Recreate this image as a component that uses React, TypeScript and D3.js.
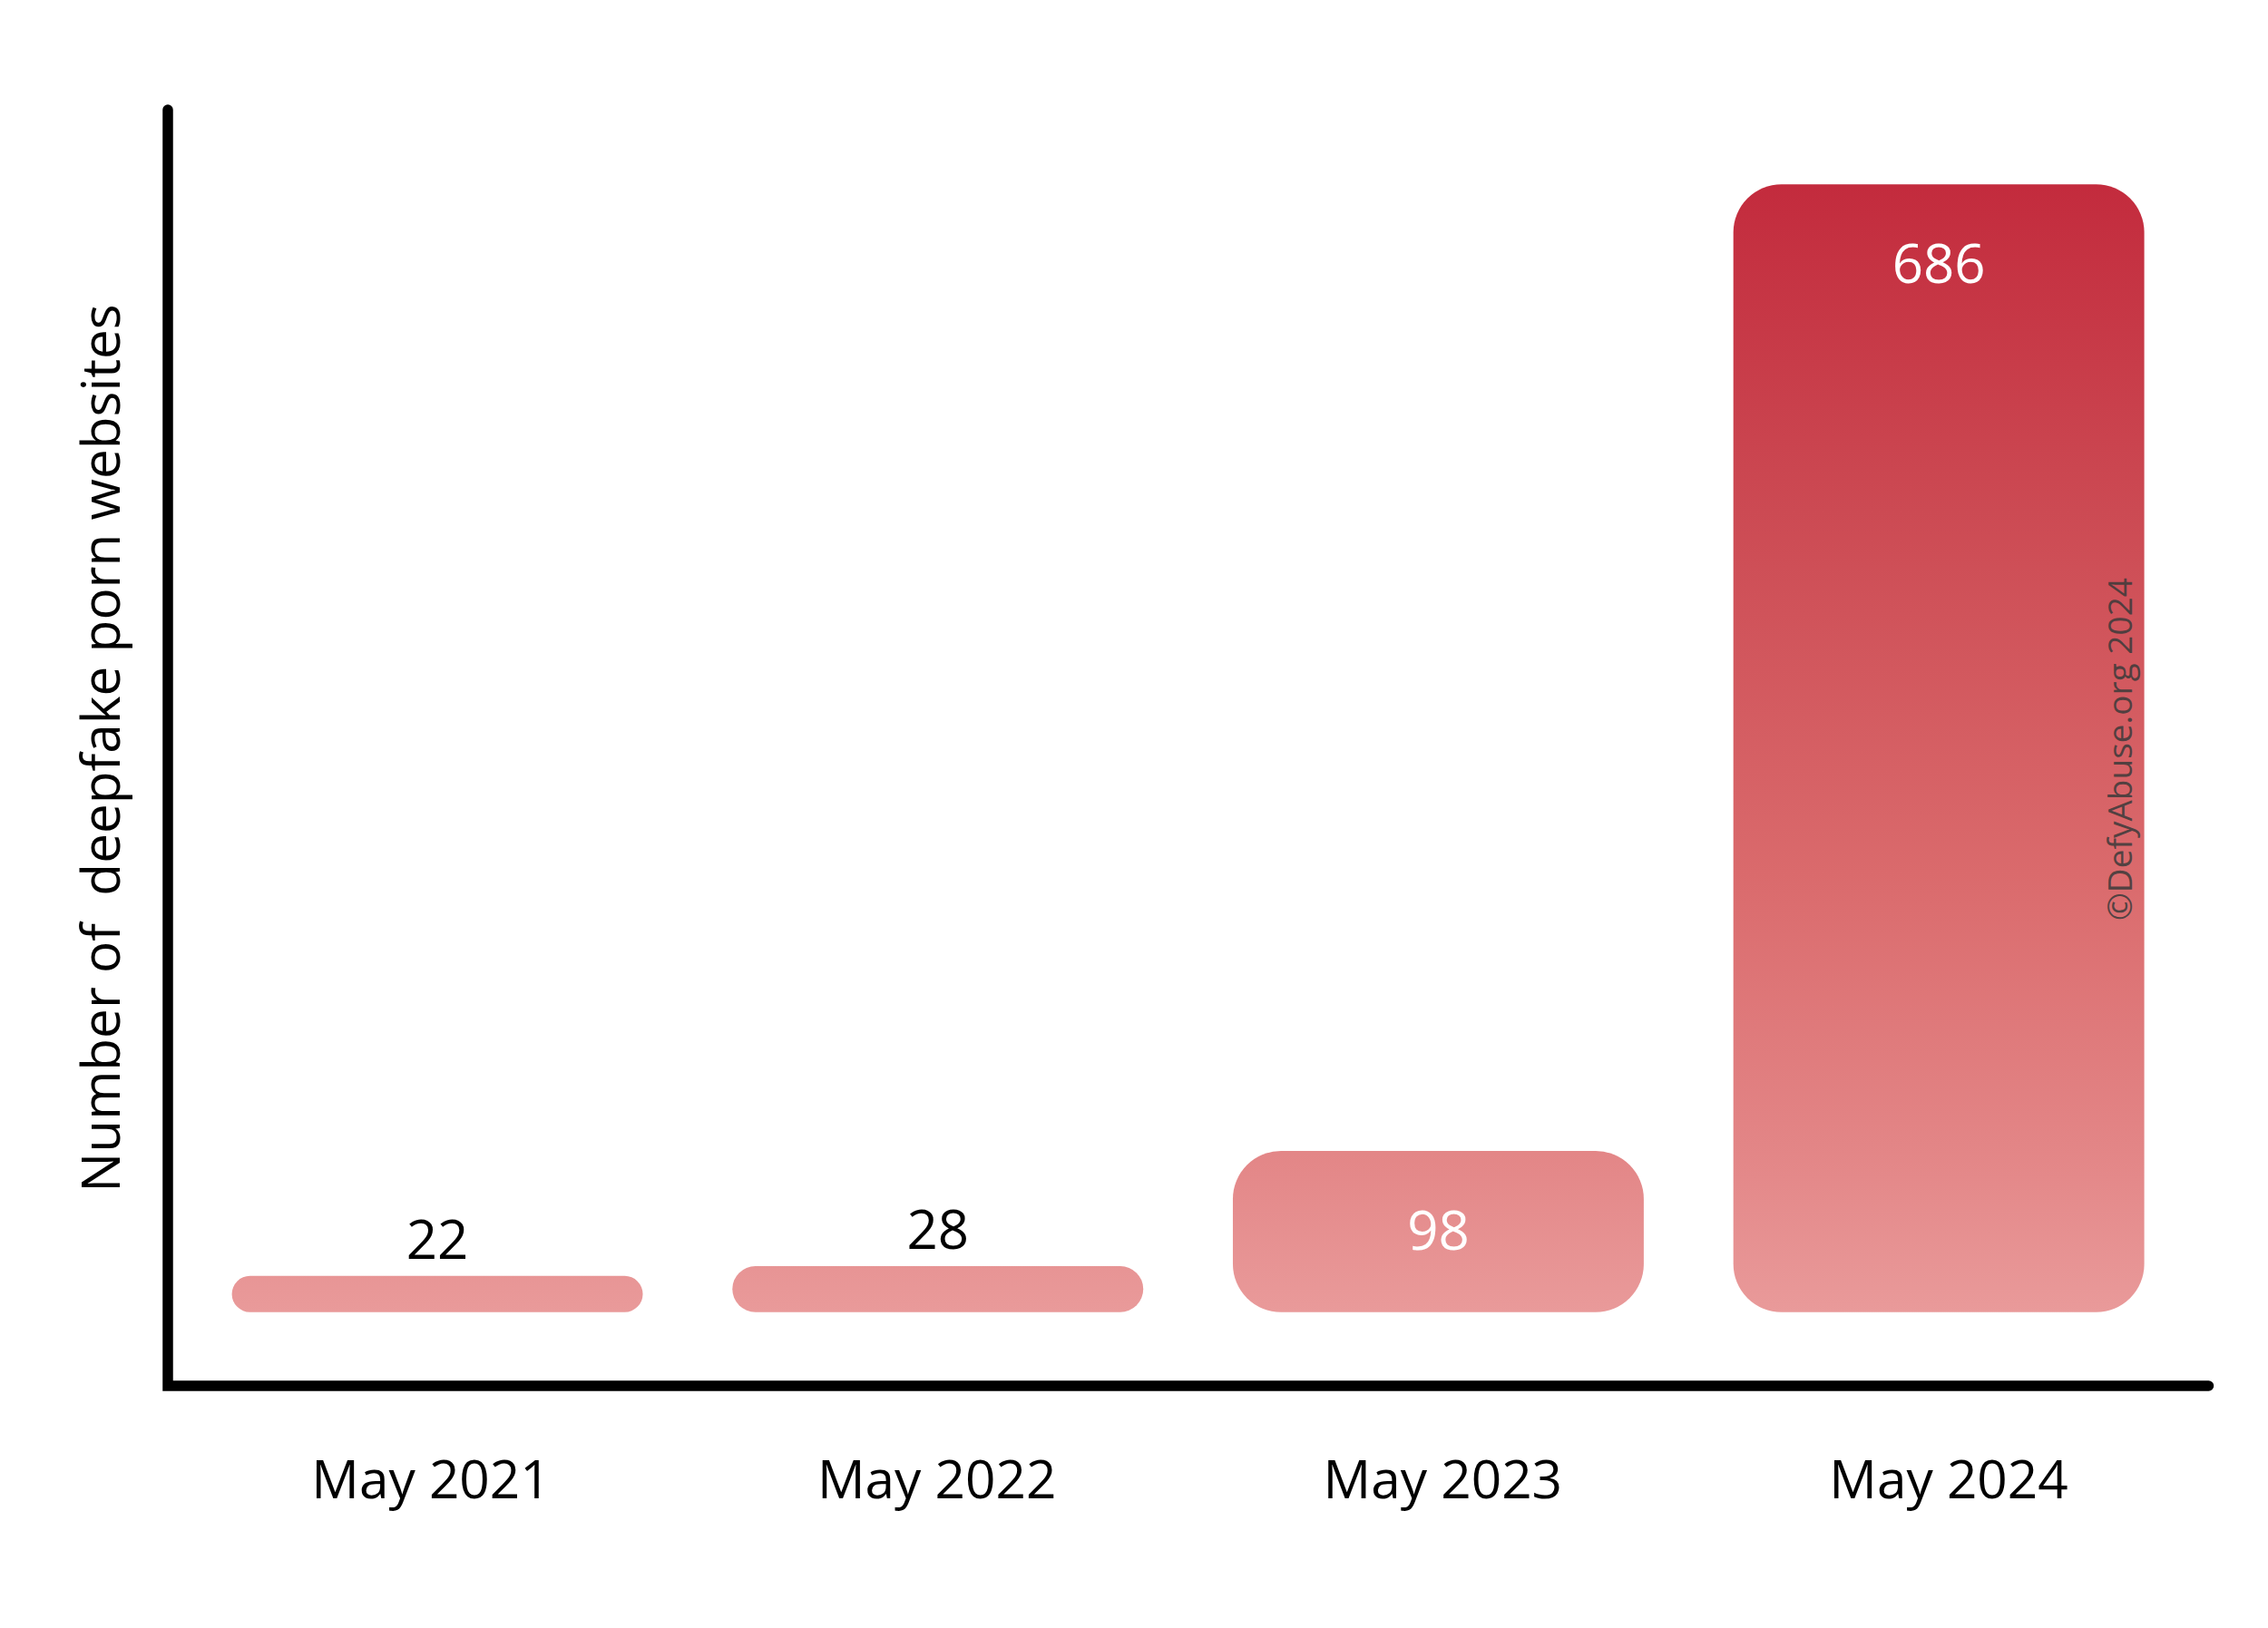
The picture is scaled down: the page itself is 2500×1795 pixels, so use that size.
import React from "react";
import * as d3 from "d3";

const categories = ["May 2021", "May 2022", "May 2023", "May 2024"];
const values = [22, 28, 98, 686];
const yTitle = "Number of  deepfake porn websites";
const watermark = "©DefyAbuse.org 2024";

const W = 2500;
const H = 1795;
const FONT = "'Open Sans', 'Noto Sans', sans-serif";

export default function App() {
  const x = d3
    .scaleBand<string>()
    .domain(categories)
    .range([255.6, 2363.6])
    .paddingInner(0.179)
    .paddingOuter(0);
  const xLabel = d3.scalePoint<string>().domain(categories).range([475, 2148]);
  const y = d3.scaleLinear().domain([0, 686]).range([1446.7, 203.3]);

  const axisPath = d3.path();
  axisPath.moveTo(185, 121);
  axisPath.lineTo(185, 1528);
  axisPath.lineTo(2434.5, 1528);

  const bw = x.bandwidth();

  return (
    <svg
      width={W}
      height={H}
      viewBox={`0 0 ${W} ${H}`}
      style={{ position: "absolute", left: 0, top: 0, background: "#fff" }}
    >
      <defs>
        <linearGradient
          id="barGrad"
          gradientUnits="userSpaceOnUse"
          x1="0"
          x2="0"
          y1={y(686)}
          y2={y(0)}
        >
          <stop offset="0" stopColor="#c32b3d" />
          <stop offset="0.29" stopColor="#cc4a53" />
          <stop offset="0.61" stopColor="#da6a6c" />
          <stop offset="0.86" stopColor="#e38687" />
          <stop offset="1" stopColor="#e99a9a" />
        </linearGradient>
      </defs>
      <rect x={0} y={0} width={W} height={H} fill="#fff" />

      {categories.map((c, i) => {
        const v = values[i];
        const top = y(v);
        const h = y(0) - top;
        const r = Math.min(53, h / 2);
        const x0 = x(c) as number;
        const inside = h > 100;
        return (
          <g key={c}>
            <rect
              x={x0}
              y={top}
              width={bw}
              height={h}
              rx={r}
              ry={r}
              fill="url(#barGrad)"
            />
            <text
              x={x0 + bw / 2}
              y={inside ? top + 109 : top - 19}
              textAnchor="middle"
              fontFamily={FONT}
              fontSize={60}
              fill={inside ? "#ffffff" : "#000000"}
            >
              {v}
            </text>
            <text
              x={xLabel(c) as number}
              y={1651.7}
              textAnchor="middle"
              fontFamily={FONT}
              fontSize={58.5}
              fill="#000"
            >
              {c}
            </text>
          </g>
        );
      })}

      <path
        d={axisPath.toString()}
        fill="none"
        stroke="#000"
        strokeWidth={11.5}
        strokeLinecap="round"
        strokeLinejoin="miter"
      />

      <text
        transform={`translate(132, 825) rotate(-90)`}
        textAnchor="middle"
        fontFamily={FONT}
        fontSize={58.5}
        fill="#000"
        style={{ whiteSpace: "pre" }}
      >
        {yTitle}
      </text>

      <text
        transform={`translate(2350, 826) rotate(-90)`}
        textAnchor="middle"
        fontFamily={FONT}
        fontSize={37}
        fill="#3a3a3a"
        fillOpacity={0.85}
      >
        {watermark}
      </text>
    </svg>
  );
}
